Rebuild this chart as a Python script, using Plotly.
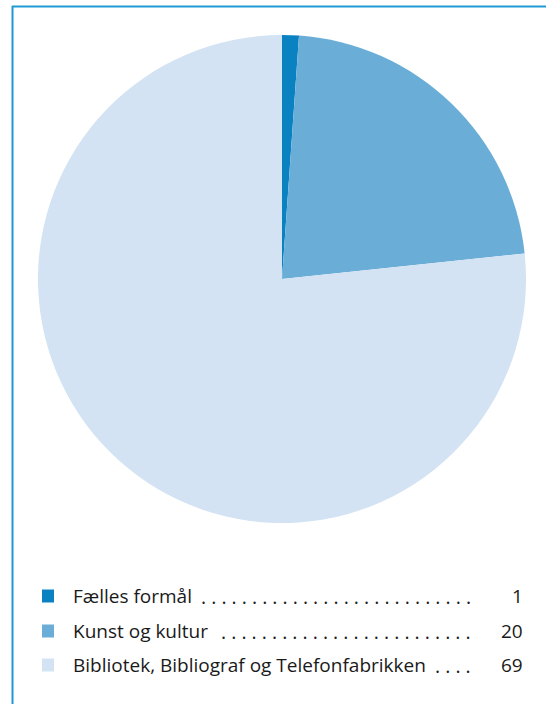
import plotly.graph_objects as go

labels = ["Fælles formål", "Kunst og kultur", "Bibliotek, Bibliograf og Telefonfabrikken"]
values = [1, 20, 69]
colors = ["#0a82c2", "#6aaed8", "#d3e3f3"]
dot_counts = [27, 25, 4]

W, H = 546, 704

def px(x):
    return x / W

def py(y):
    return 1 - y / H

fig = go.Figure()
fig.add_trace(go.Pie(
    labels=labels, values=values, sort=False, direction="clockwise", rotation=0,
    marker=dict(colors=colors, line=dict(width=0)),
    textinfo="none", hoverinfo="label+value", showlegend=False,
    domain=dict(x=[px(38), px(526)], y=[py(523), py(35)]),
))

shapes = [
    dict(type="line", xref="paper", yref="paper", x0=px(12.5), x1=px(12.5), y0=py(6), y1=0,
         line=dict(color="#1f9ad6", width=2)),
    dict(type="line", xref="paper", yref="paper", x0=px(12), x1=1, y0=py(6.5), y1=py(6.5),
         line=dict(color="#1f9ad6", width=2)),
]
annotations = []
row_y = [596, 631, 665]
font = dict(family="Open Sans", size=19, color="#1a1a1a")
dot_font = dict(family="Open Sans", size=19.5, color="#1a1a1a")
for i, (lab, val, col) in enumerate(zip(labels, values, colors)):
    yc = row_y[i]
    shapes.append(dict(type="rect", xref="paper", yref="paper",
                       x0=px(42), x1=px(54), y0=py(yc + 6.5), y1=py(yc - 6.5),
                       fillcolor=col, line=dict(width=0)))
    annotations.append(dict(xref="paper", yref="paper", x=px(71), y=py(yc), text=lab,
                            xanchor="left", yanchor="middle", showarrow=False, font=font))
    annotations.append(dict(xref="paper", yref="paper", x=px(473), y=py(yc),
                            text=" ".join(["."] * dot_counts[i]),
                            xanchor="right", yanchor="middle", showarrow=False, font=dot_font))
    annotations.append(dict(xref="paper", yref="paper", x=px(525), y=py(yc), text=str(val),
                            xanchor="right", yanchor="middle", showarrow=False, font=font))

fig.update_layout(
    width=W, height=H, margin=dict(l=0, r=0, t=0, b=0),
    paper_bgcolor="white", plot_bgcolor="white",
    shapes=shapes, annotations=annotations,
)
fig.write_html("out.html", config={"displayModeBar": False},
               post_script="document.body.style.margin='0';")
